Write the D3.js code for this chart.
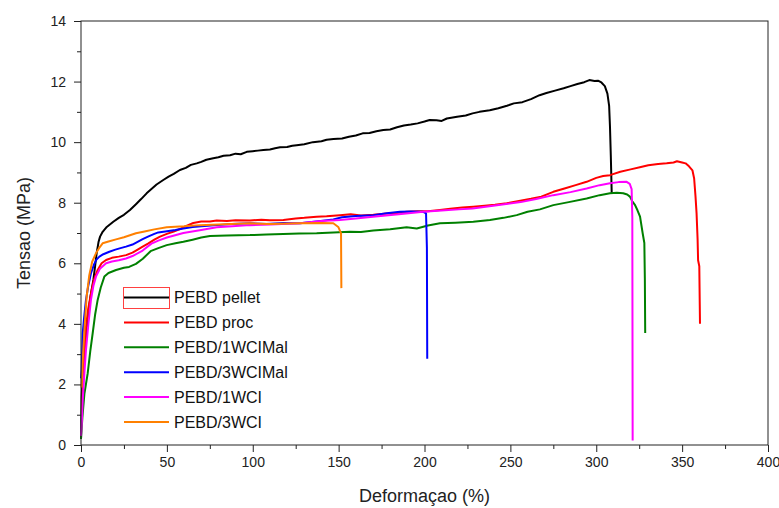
<!DOCTYPE html>
<html>
<head>
<meta charset="utf-8">
<script src="https://cdn.jsdelivr.net/npm/d3@7"></script>
<style>
  html, body { margin: 0; padding: 0; background: #fff; }
  svg { display: block; font-family: "Liberation Sans", Arial, sans-serif; }
</style>
</head>
<body>
<svg id="chart" width="779" height="508"></svg>
<script>
// ---- data (strain %, stress MPa) ----
const seriesNames = ["PEBD pellet", "PEBD proc", "PEBD/1WCIMal", "PEBD/3WCIMal", "PEBD/1WCI", "PEBD/3WCI"];
const seriesColors = ["#000000", "#ff0000", "#008000", "#0000ff", "#ff00ff", "#ff8000"];

const pebdPellet = [[0,0.2],[0.4,1.6],[1.2,2.5],[2.3,3.25],[3.3,3.8],[4.3,4.35],[5.5,4.9],[7.2,5.45],[8.2,5.9],[9.1,6.33],[10.2,6.7],[11.1,6.88],[12.6,7.04],[15,7.2],[18.8,7.37],[22,7.5],[25,7.6],[28.5,7.76],[32,7.95],[35,8.12],[38.2,8.31],[41,8.45],[44,8.6],[47.9,8.75],[51,8.86],[54,8.95],[57.6,9.08],[61,9.15],[64,9.25],[67.4,9.3],[70,9.35],[73,9.42],[77,9.47],[80,9.5],[83,9.55],[86.8,9.57],[90,9.62],[93,9.6],[96.5,9.68],[100,9.7],[103,9.72],[106.2,9.74],[110,9.76],[113,9.8],[115.9,9.83],[120,9.84],[123,9.88],[125.6,9.9],[130,9.93],[135,10.0],[140,10.03],[143,10.08],[147,10.1],[152,10.12],[156,10.18],[160,10.22],[164,10.29],[168,10.3],[172,10.36],[176,10.4],[180,10.42],[184,10.49],[188,10.55],[192,10.58],[196,10.62],[200,10.68],[203,10.73],[207,10.72],[210,10.7],[213,10.78],[219,10.84],[224,10.88],[228,10.95],[232,11.0],[238,11.05],[243,11.12],[248,11.2],[252,11.28],[257,11.32],[262,11.42],[267,11.55],[271,11.62],[276,11.7],[281,11.78],[285,11.85],[289,11.92],[293,11.98],[296,12.05],[299,12.02],[301,12.03],[303,11.97],[305,11.85],[306.5,11.6],[307.5,11.2],[308,10.5],[308.5,9.5],[309,8.3]];

const pebdProc = [[0.5,1.0],[1.5,2.5],[2.9,3.9],[4.2,4.5],[5.8,5.0],[7.5,5.45],[9.7,5.78],[12,6.0],[14.6,6.11],[18,6.18],[22,6.22],[26.2,6.27],[30,6.35],[33,6.45],[35.9,6.55],[39,6.65],[42.7,6.78],[46,6.88],[50,6.97],[54,7.05],[58,7.14],[62,7.25],[65.4,7.33],[70,7.38],[75,7.38],[79,7.41],[85,7.4],[90,7.42],[98.4,7.41],[105,7.44],[110,7.42],[117.8,7.43],[125,7.48],[130,7.5],[137.2,7.54],[143,7.55],[150.8,7.59],[157,7.62],[163,7.58],[170.2,7.6],[178,7.64],[184,7.66],[189.6,7.7],[196,7.72],[202,7.72],[209,7.76],[215,7.8],[222,7.84],[228.4,7.87],[235,7.9],[241,7.93],[247.9,7.98],[255,8.06],[262,8.13],[268,8.2],[275,8.36],[282,8.48],[288,8.58],[294.4,8.69],[300,8.82],[304,8.88],[308,8.91],[314,9.02],[320,9.1],[326,9.18],[330.3,9.24],[336,9.28],[341,9.3],[345,9.33],[347,9.37],[350,9.33],[352,9.3],[354,9.2],[356,9.07],[357,8.8],[357.8,8.2],[358.4,7.66],[359,6.8],[359.3,6.1],[360,5.9],[360.4,4.0]];

const pebd1WCIMal = [[0,0.2],[0.8,0.9],[2,1.7],[3.9,2.37],[5.4,3.1],[6.8,3.69],[8.2,4.3],[9.7,4.79],[11.5,5.2],[13.6,5.56],[16,5.68],[20.4,5.78],[25,5.85],[28,5.88],[32,5.98],[36,6.15],[40.5,6.4],[45,6.5],[49.9,6.6],[55,6.66],[59.6,6.71],[65,6.78],[70,6.85],[75.1,6.9],[85,6.92],[98.4,6.93],[108,6.95],[117.8,6.97],[127,6.98],[137.2,6.99],[147,7.02],[156.6,7.04],[163,7.03],[170.2,7.08],[180,7.12],[189.6,7.19],[195.5,7.15],[202,7.25],[209,7.32],[218,7.34],[228.4,7.37],[238.1,7.43],[246,7.5],[253.7,7.59],[260,7.7],[267.2,7.78],[275,7.92],[284,8.02],[294.4,8.14],[302,8.25],[308,8.31],[312,8.33],[315.7,8.31],[318,8.27],[319.6,8.2],[321,8.05],[322.6,7.92],[324,7.75],[325.5,7.54],[327,7.0],[328,6.67],[328.3,5.5],[328.5,3.7]];

const pebd3WCIMal = [[0,2.2],[0.4,2.5],[1.0,3.69],[1.8,4.2],[2.9,4.79],[4.2,5.25],[5.8,5.67],[7.5,5.95],[9,6.12],[10.7,6.22],[13,6.3],[16.5,6.38],[20,6.45],[23,6.5],[26.2,6.55],[30,6.62],[35.9,6.8],[39,6.88],[42.7,6.97],[45,7.02],[50,7.06],[55,7.1],[59.6,7.15],[65,7.2],[70,7.22],[79,7.26],[88,7.3],[98.4,7.32],[108,7.3],[118,7.33],[127.5,7.32],[137,7.38],[146.9,7.45],[152,7.52],[160,7.56],[170.2,7.59],[178,7.65],[185.7,7.7],[192,7.71],[199.3,7.7],[200.9,7.65],[201.4,6.5],[201.6,2.85]];

const pebd1WCI = [[0,0.3],[0.5,0.8],[1.0,1.49],[2,2.4],[2.9,3.14],[4.3,4.0],[5.8,4.79],[7.2,5.25],[8.7,5.56],[11,5.82],[14.6,6.0],[18,6.06],[22,6.1],[26.2,6.16],[30,6.24],[35.9,6.42],[41,6.65],[45,6.75],[50,6.85],[59.6,7.0],[70,7.1],[79,7.19],[88,7.22],[98.4,7.26],[110,7.28],[127.5,7.32],[140,7.4],[150.8,7.43],[160,7.48],[170,7.54],[185,7.62],[199.3,7.7],[210,7.74],[220,7.78],[228,7.81],[240,7.9],[256,8.02],[265,8.12],[275,8.25],[285,8.35],[294.4,8.47],[302,8.58],[308,8.64],[313,8.68],[317.7,8.69],[319.5,8.62],[320.6,8.45],[321,7.5],[321.2,0.15]];

const pebd3WCI = [[0.3,1.9],[1.2,3.0],[2.2,4.0],[3.3,4.9],[4.8,5.6],[6.5,6.05],[8.7,6.33],[10.5,6.5],[12.6,6.66],[16,6.72],[20.4,6.79],[25,6.86],[32,6.99],[37,7.05],[42.7,7.12],[49.9,7.19],[60,7.22],[69.3,7.26],[80,7.28],[98.4,7.32],[110,7.3],[127.5,7.32],[140,7.33],[146.9,7.32],[149.8,7.2],[151.4,6.99],[151.6,5.18]];

const seriesData = [pebdPellet, pebdProc, pebd1WCIMal, pebd3WCIMal, pebd1WCI, pebd3WCI];

const xMajorTicks = [0, 50, 100, 150, 200, 250, 300, 350, 400];
const xMinorTicks = [25, 75, 125, 175, 225, 275, 325, 375];
const yMajorTicks = [0, 2, 4, 6, 8, 10, 12, 14];
const yMinorTicks = [1, 3, 5, 7, 9, 11, 13];

const xTitle = "Deformaçao (%)";
const yTitle = "Tensao (MPa)";

// ---- layout ----
const svg = d3.select("#chart");
const L = 81, R = 768, T = 21, B = 445;
const x = d3.scaleLinear().domain([0, 400]).range([L, R]);
const y = d3.scaleLinear().domain([0, 14]).range([B, T]);
const axisColor = "#222";

// curves
const line = d3.line().x(d => x(d[0])).y(d => y(d[1]));
const gLines = svg.append("g");
seriesData.forEach((s, i) => {
  gLines.append("path")
    .attr("d", line(s))
    .attr("fill", "none")
    .attr("stroke", seriesColors[i])
    .attr("stroke-width", 2)
    .attr("stroke-linejoin", "round");
});

// frame
svg.append("rect")
  .attr("x", L).attr("y", T).attr("width", R - L).attr("height", B - T)
  .attr("fill", "none").attr("stroke", axisColor).attr("stroke-width", 1);

// axes
function styleAxis(g) {
  g.select(".domain").remove();
  g.selectAll(".tick line").attr("stroke", axisColor);
  g.selectAll(".tick text").attr("fill", axisColor)
    .style("font-family", "'Liberation Sans', Arial, sans-serif")
    .style("font-size", "14px");
}
svg.append("g").attr("transform", `translate(0,${B})`)
  .call(d3.axisBottom(x).tickValues(xMajorTicks).tickSize(7).tickPadding(5).tickFormat(d3.format("d")))
  .call(styleAxis);
svg.append("g").attr("transform", `translate(0,${B})`)
  .call(d3.axisBottom(x).tickValues(xMinorTicks).tickSize(4).tickFormat(""))
  .call(styleAxis);
svg.append("g").attr("transform", `translate(${L},0)`)
  .call(d3.axisLeft(y).tickValues(yMajorTicks).tickSize(7).tickPadding(8).tickFormat(d3.format("d")))
  .call(styleAxis);
svg.append("g").attr("transform", `translate(${L},0)`)
  .call(d3.axisLeft(y).tickValues(yMinorTicks).tickSize(4).tickFormat(""))
  .call(styleAxis);

// titles
svg.append("text")
  .attr("x", (L + R) / 2).attr("y", 502)
  .attr("text-anchor", "middle")
  .attr("fill", axisColor)
  .style("font-size", "18px")
  .text(xTitle);
svg.append("text")
  .attr("transform", `translate(30,${(T + B) / 2}) rotate(-90)`)
  .attr("text-anchor", "middle")
  .attr("fill", axisColor)
  .style("font-size", "18px")
  .text(yTitle);

// legend
const legend = svg.append("g");
seriesNames.forEach((name, i) => {
  const ly = 297.5 + i * 24.9;
  legend.append("line")
    .attr("x1", 124).attr("x2", 169).attr("y1", ly).attr("y2", ly)
    .attr("stroke", seriesColors[i]).attr("stroke-width", 2);
  legend.append("text")
    .attr("x", 174).attr("y", ly)
    .attr("dominant-baseline", "central")
    .attr("fill", "#111")
    .style("font-size", "16px")
    .text(name);
});
legend.append("rect")
  .attr("x", 123.5).attr("y", 287.5).attr("width", 46).attr("height", 21)
  .attr("fill", "none").attr("stroke", "#ff4040").attr("stroke-width", 1);
</script>
</body>
</html>
